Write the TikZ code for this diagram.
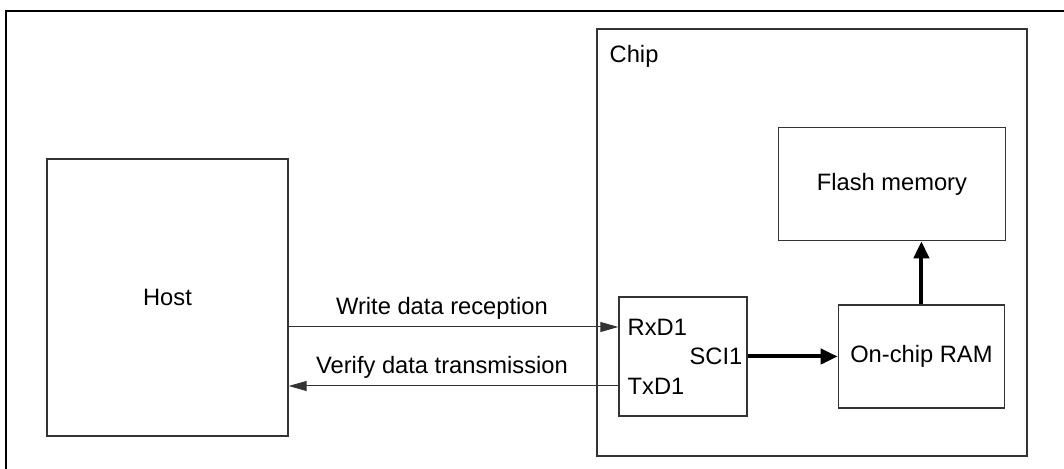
\documentclass[tikz,border=0pt]{standalone}
\usepackage{fontspec}
\setmainfont{Liberation Sans}
\usetikzlibrary{arrows.meta,positioning}
\definecolor{BoxGrey}{HTML}{333333}
\tikzset{box/.style={draw=BoxGrey,line width=0.7pt,inner sep=0pt,font=\fontsize{11.85}{14}\selectfont},
hostbox/.style={box,minimum width=120.5pt,minimum height=138.5pt},
chipbox/.style={box,minimum width=215pt,minimum height=213.5pt},
scibox/.style={box,minimum width=64pt,minimum height=59.5pt},
membox/.style={box,minimum width=83pt,minimum height=51.5pt},
txt/.style={inner sep=0pt,font=\fontsize{11.85}{14}\selectfont},
lbl/.style={txt,above=3.5pt},
link/.style={-{Triangle[length=9pt,width=5pt]},line width=0.5pt,draw=BoxGrey},
bus/.style={-{Triangle[length=8.5pt,width=7.5pt]},line width=2pt,draw=black}}
\begin{document}
\begin{tikzpicture}[x=1pt,y=1pt]
\useasboundingbox (0,0) rectangle (532,234.5);
\draw[line width=1pt] (3,0) -- (3,229) -- (532,229);
\node[hostbox](host) at (83.75,85.75){Host};
\node[chipbox](chip) at (406,113.25){};
\node[txt,anchor=base west](chiplbl) at ([shift={(6.5pt,-17pt)}]chip.north west){Chip};
\node[scibox](sci) at (341.5,56.25){};
\node[txt,anchor=west](rx) at ([shift={(4.5pt,14.75pt)}]sci.west){RxD1};
\node[txt,anchor=west](tx) at ([shift={(4.5pt,-14.75pt)}]sci.west){TxD1};
\node[txt,anchor=east](scilbl) at ([xshift=-2.5pt]sci.east){SCI1};
\node[membox,right=45pt of sci](ram){On-chip RAM};
\node[membox,minimum width=113.5pt,minimum height=56.5pt,above=31.5pt of ram,xshift=-14.75pt](flash){Flash memory};
\draw[link](host.east |- rx)--node[lbl,pos=0.465]{Write data reception}(sci.west |- rx);
\draw[link](sci.west |- tx)--node[lbl,pos=0.535]{Verify data transmission}(host.east |- tx);
\draw[bus](sci.east)--(ram.west);
\draw[bus](ram.north)--(ram.north |- flash.south);
\end{tikzpicture}
\end{document}
